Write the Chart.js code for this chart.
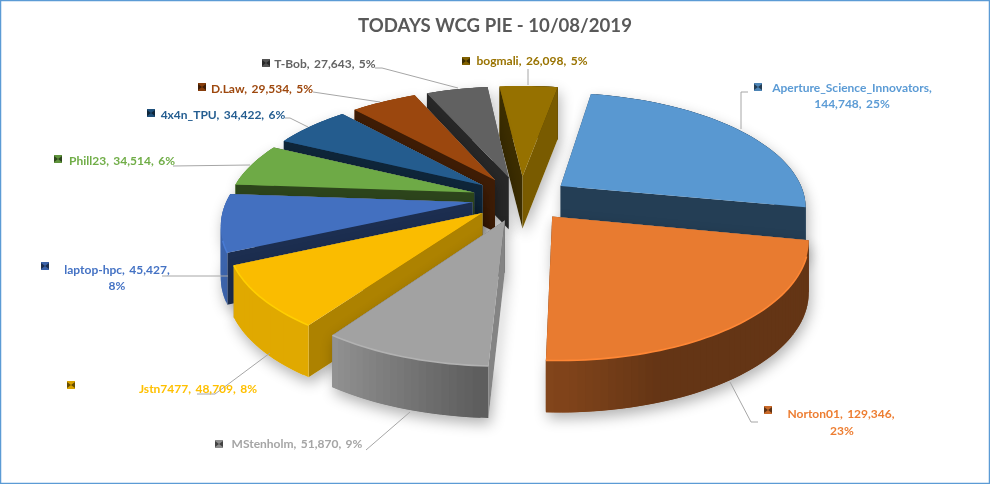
<!DOCTYPE html>
<html>
<head>
<meta charset="utf-8">
<script src="https://cdn.jsdelivr.net/npm/chart.js@4/dist/chart.umd.min.js"></script>
<style>
  body { margin: 0; background: #fff; }
  #box { width: 990px; height: 484px; }
</style>
</head>
<body>
<div id="box"><canvas id="myChart"></canvas></div>
<script>
const categories = ["Aperture_Science_Innovators", "Norton01", "MStenholm", "Jstn7477", "laptop-hpc", "Phill23", "4x4n_TPU", "D.Law", "T-Bob", "bogmali"];
const values = [144748, 129346, 51870, 48709, 45427, 34514, 34422, 29534, 27643, 26098];
const percents = [25, 23, 9, 8, 8, 6, 6, 5, 5, 5];
const colors = ["#5B9BD5", "#ED7D31", "#A5A5A5", "#FFC000", "#4472C4", "#70AD47", "#255E91", "#9E480E", "#636363", "#997300"];

// label placement: text centre(s), legend key, leader line
const labelLayout = [
  { lines: [[852, 88], [852, 104]], breakAt: 1, key: [758, 87], leader: [[748, 92], [741, 92], [741, 129]] },
  { lines: [[841, 414], [842, 431]], breakAt: 2, key: [768, 410], leader: [[758, 422], [751, 422], [730, 382]] },
  { lines: [[297, 444]], key: [219, 444], leader: [[366, 450], [410, 412]] },
  { lines: [[198, 389]], key: [71, 385], leader: [[197, 394], [215, 394], [270, 353]] },
  { lines: [[117, 270], [117, 286]], breakAt: 2, key: [45, 266], leader: [[162, 276], [228, 276]] },
  { lines: [[122, 161]], key: [58, 159], leader: [[173, 166], [250, 165]] },
  { lines: [[223, 115]], key: [151, 113], leader: [[285, 118], [290, 118], [308, 127]] },
  { lines: [[262, 89]], key: [202, 87], leader: [[313, 92], [380, 102]] },
  { lines: [[325, 64]], key: [266, 63], leader: [[375, 68], [382, 68], [458, 88]] },
  { lines: [[532, 61]], key: [466, 61], leader: [[528, 69], [528, 85]] },
];

const TILT = 0.46, PERSP = 0.169, DEPTH = 52, SHIFT_X = 26;

function shade(hex, f) {
  const n = parseInt(hex.slice(1), 16);
  const ch = s => Math.min(255, Math.round(((n >> s) & 255) * f));
  return "rgb(" + ch(16) + "," + ch(8) + "," + ch(0) + ")";
}

// rim wall brightness by angle around the pie
function wallShade(a) {
  const d = a * 180 / Math.PI;
  if (d < 70) return 0.42;
  if (d < 92) return 0.42 + (d - 70) / 22 * 0.14;
  if (d < 125) return 0.56 + (d - 92) / 33 * 0.34;
  return 0.88;
}

// radial cut face brightness from its normal
function faceShade(normal) {
  const nx = Math.cos(normal);
  return 0.4 + 0.4 * Math.max(0, Math.min(1, (nx - 0.4) / 0.6));
}

const pie3d = {
  id: "pie3d",
  beforeDatasetDraw(chart) {
    const ctx = chart.ctx;
    const arcs = chart.getDatasetMeta(0).data;
    const order = arcs.map((a, i) => i).sort((p, q) => {
      const m = a => (a.startAngle + a.endAngle) / 2;
      return Math.sin(m(arcs[p])) - Math.sin(m(arcs[q]));
    });
    order.forEach(i => drawSlice(ctx, arcs[i], colors[i]));
    return false;
  },
};

function drawSlice(ctx, arc, color) {
  const R = arc.outerRadius, off = arc.options.offset;
  const mid = (arc.startAngle + arc.endAngle) / 2;
  const point = (a, r, z) => {
    const u = (r * Math.cos(a) + off * Math.cos(mid)) / R;
    const v = (r * Math.sin(a) + off * Math.sin(mid)) / R;
    const s = 1 / (1 - PERSP * v);
    return { x: arc.x + SHIFT_X + R * u * s, y: arc.y + R * TILT * v * s + z, v: v };
  };
  const steps = Math.ceil((arc.endAngle - arc.startAngle) / (Math.PI / 120));
  const angle = k => arc.startAngle + (arc.endAngle - arc.startAngle) * Math.min(k, steps) / steps;
  const faces = [];
  const quad = (a0, r0, a1, r1, col) => {
    const pts = [point(a0, r0, 0), point(a1, r1, 0), point(a1, r1, DEPTH), point(a0, r0, DEPTH)];
    faces.push({ pts: pts, col: col, key: (pts[0].v + pts[1].v) / 2 });
  };
  quad(arc.startAngle, 0, arc.startAngle, R, shade(color, faceShade(arc.startAngle - Math.PI / 2)));
  quad(arc.endAngle, 0, arc.endAngle, R, shade(color, faceShade(arc.endAngle + Math.PI / 2)));
  for (let k = 0; k < steps; k++) {
    // strips overlap a little so no seams show between them
    const norm = ((angle(k) + angle(k + 1)) / 2 + Math.PI * 2.5) % (Math.PI * 2) - Math.PI / 2;
    quad(angle(k), R, angle(k + 2), R, shade(color, wallShade(norm)));
  }
  faces.sort((a, b) => a.key - b.key);

  const trace = pts => {
    pts.forEach((p, n) => n ? ctx.lineTo(p.x, p.y) : ctx.moveTo(p.x, p.y));
    ctx.closePath();
  };
  const top = [point(arc.startAngle, 0, 0)];
  for (let k = 0; k <= steps; k++) top.push(point(angle(k), R, 0));

  // soft shadow under the whole wedge
  ctx.save();
  ctx.shadowColor = "rgba(0,0,0,0.3)";
  ctx.shadowBlur = 14;
  ctx.shadowOffsetX = 2;
  ctx.shadowOffsetY = 6;
  ctx.fillStyle = "#fff";
  ctx.beginPath();
  faces.forEach(f => trace(f.pts));
  ctx.fill();
  ctx.restore();

  faces.forEach(f => {
    ctx.beginPath();
    trace(f.pts);
    ctx.fillStyle = f.col;
    ctx.fill();
  });

  ctx.beginPath();
  trace(top);
  ctx.fillStyle = shade(color, 0.98);
  ctx.fill();

  // small bevel along the front of the rim only
  ctx.beginPath();
  let pen = false;
  for (let k = 0; k <= steps; k++) {
    if (Math.sin(angle(k)) < 0.3) { pen = false; continue; }
    const p = point(angle(k), R, 0);
    if (pen) ctx.lineTo(p.x, p.y); else ctx.moveTo(p.x, p.y);
    pen = true;
  }
  ctx.strokeStyle = shade(color, 1.08);
  ctx.lineWidth = 1.6;
  ctx.stroke();
}

const pieLabels = {
  id: "pieLabels",
  afterDraw(chart) {
    const ctx = chart.ctx;
    ctx.save();
    ctx.font = "bold 12px Lato";
    ctx.wordSpacing = "1.5px";
    ctx.textAlign = "center";
    ctx.textBaseline = "middle";
    labelLayout.forEach((lay, i) => {
      ctx.beginPath();
      lay.leader.forEach((p, n) => n ? ctx.lineTo(p[0], p[1]) : ctx.moveTo(p[0], p[1]));
      ctx.strokeStyle = "#A6A6A6";
      ctx.lineWidth = 1;
      ctx.stroke();

      const parts = [categories[i], values[i].toLocaleString("en-US"), percents[i] + "%"];
      const texts = lay.breakAt
        ? [parts.slice(0, lay.breakAt).join(", ") + ",", parts.slice(lay.breakAt).join(", ")]
        : [parts.join(", ")];
      ctx.fillStyle = colors[i];
      texts.forEach((t, n) => ctx.fillText(t, lay.lines[n][0], lay.lines[n][1]));

      // bevelled legend key
      const [kx, ky] = lay.key;
      ctx.fillStyle = shade(colors[i], 0.85);
      ctx.fillRect(kx - 4, ky - 4, 8, 8);
      ctx.fillStyle = shade(colors[i], 0.4);
      ctx.beginPath();
      ctx.moveTo(kx + 4, ky - 3);
      ctx.lineTo(kx + 4, ky + 3);
      ctx.lineTo(kx, ky);
      ctx.closePath();
      ctx.moveTo(kx - 4, ky - 3);
      ctx.lineTo(kx - 4, ky + 3);
      ctx.lineTo(kx, ky);
      ctx.closePath();
      ctx.fill();
    });
    ctx.restore();

    // chart frame
    ctx.save();
    ctx.strokeStyle = "#5B9BD5";
    ctx.lineWidth = 1.5;
    ctx.strokeRect(0.5, 0.5, chart.width - 1, chart.height - 1);
    ctx.restore();
  },
};

const data = {
  labels: categories,
  datasets: [
    {
      data: values,
      backgroundColor: colors,
      borderWidth: 0,
      offset: 49,
      radius: 245,
    },
  ],
};

const config = {
  type: "pie",
  data: data,
  plugins: [pie3d, pieLabels],
  options: {
    responsive: true,
    maintainAspectRatio: false,
    animation: false,
    rotation: 10,
    layout: {
      padding: { left: 0, right: 0, top: 15, bottom: 134 },
    },
    plugins: {
      legend: { display: false },
      tooltip: { enabled: false },
      title: {
        display: true,
        text: "TODAYS WCG PIE - 10/08/2019",
        color: "#595959",
        font: { family: "Lato", size: 18.6, weight: "bold" },
        padding: { top: 0, bottom: 9.5 },
      },
    },
  },
};
const newChart = new Chart("myChart", config);
</script>
</body>
</html>
